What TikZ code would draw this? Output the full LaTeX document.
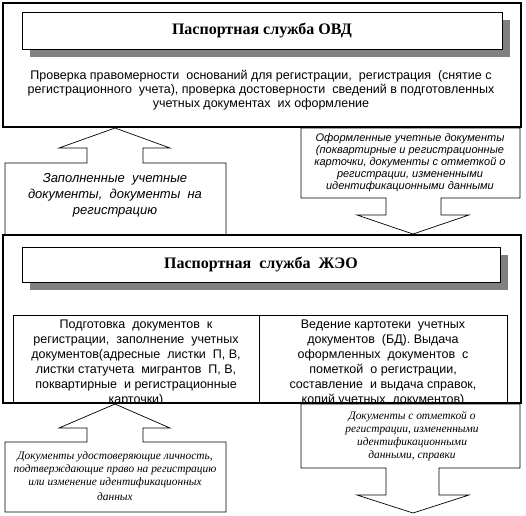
\documentclass[tikz,border=0pt]{standalone}
\usepackage{fontspec}
\setmainfont{Liberation Serif}
\setsansfont{Liberation Sans}
\usepackage{xcolor}
\usetikzlibrary{shadows}

\definecolor{shadowgray}{HTML}{808080}
\pgfdeclarelayer{bg}
\pgfsetlayers{bg,main}

\begin{document}
\begin{tikzpicture}[x=1pt, y=-1pt,
    bigbox/.style={draw, line width=2pt, inner sep=0pt},
    titlebox/.style={draw, fill=white, line width=0.8pt, inner sep=0pt,
        font=\bfseries\fontsize{16}{18}\selectfont,
        drop shadow={shadow xshift=8pt, shadow yshift=-8pt, fill=shadowgray, opacity=1}},
    callout/.style={draw, fill=white, line width=0.7pt, line join=miter},
    plaintext/.style={font=\sffamily\fontsize{12.5}{13.8}\selectfont, align=center},
    tabletext/.style={font=\sffamily\fontsize{12.5}{15}\selectfont, align=center, anchor=north},
    notetext/.style={font=\sffamily\itshape\fontsize{13}{16}\selectfont, align=center},
    smallnote/.style={font=\sffamily\itshape\fontsize{11}{12}\selectfont, align=center},
    scriptnote/.style={font=\itshape\fontsize{11.4}{13}\selectfont, align=center}]
    \useasboundingbox (0,0) rectangle (526,515);

    % Upper block
    \node[bigbox, minimum width=518pt, minimum height=124pt] (ovd) at (262,65) {};
    \node[titlebox, minimum width=480pt, minimum height=37pt] (ovdtitle) at (262,30.5)
        {Паспортная служба ОВД};
    \node[plaintext] (ovdtext) at (261,90)
        {Проверка правомерности \ оснований для регистрации, \ регистрация \ (снятие с\\
         регистрационного \ учета), проверка достоверности \ сведений в подготовленных\\
         учетных документах \ их оформление};

    % Lower block
    \node[bigbox, minimum width=518pt, minimum height=168pt] (jeo) at (262,319) {};
    \node[titlebox, minimum width=478pt, minimum height=35pt] (jeotitle) at (261,264.5)
        {Паспортная \ служба \ ЖЭО};
    \begin{scope}
        \clip (5,237) rectangle (519,402);
        \draw[line width=0.7pt] (13,403) |- (507,315) -- (507,403);
        \draw[line width=0.7pt] (259,315) -- (259,403);
        \node[tabletext] (prep) at (136,316)
            {Подготовка \ документов \ к\\
             регистрации, \ заполнение \ учетных\\
             документов(адресные \ листки \ П, В,\\
             листки статучета \ мигрантов \ П, В,\\
             поквартирные \ и регистрационные\\
             карточки)};
        \node[tabletext] (card) at (383,316)
            {Ведение картотеки \ учетных\\
             документов \ (БД). Выдача\\
             оформленных \ документов \ с\\
             пометкой \ о регистрации,\\
             составление \ и выдача справок,\\
             копий учетных \ документов)};
    \end{scope}

    % Callouts
    \begin{pgfonlayer}{bg}
        \draw[callout] (5,235) |- (87,163) |- (59,148) -- (115,0 |- ovd.south)
            -- (170,148) -| (143,163) -| (226,235) -- cycle;
        \draw[callout] (301,0 |- ovd.south) -| (520,198) -| (441,215) -- (469,215)
            -- (413,0 |- jeo.north) -- (357,215) -- (386,215) -- (386,198) -- (301,198) -- cycle;
        \draw[callout] (5,512) |- (87,442) |- (59,428) -- (115,0 |- jeo.south)
            -- (170,428) -| (143,442) -| (226,512) -- cycle;
        \draw[callout] (301,0 |- jeo.south) -| (520,468) -| (439,495) -- (469,495)
            -- (413,513) -- (357,495) -- (386,495) -- (386,468) -- (301,468) -- cycle;
    \end{pgfonlayer}
    \node[notetext] (filled) at (115,195)
        {Заполненные \ учетные\\ документы, \ документы \ на\\ регистрацию};
    \node[smallnote] (issued) at (410,163)
        {Оформленные учетные документы\\
         (поквартирные и регистрационные\\
         карточки, документы с отметкой о\\
         регистрации, измененными\\
         идентификационными данными};
    \node[scriptnote] (identity) at (115,476)
        {Документы удостоверяющие личность,\\
         подтверждающие право на регистрацию\\
         или изменение идентификационных\\[2pt]
         данных};
    \node[scriptnote] (marked) at (412,436)
        {Документы с отметкой о\\
         регистрации, измененными\\
         идентификационными\\
         данными, справки};
\end{tikzpicture}
\end{document}
